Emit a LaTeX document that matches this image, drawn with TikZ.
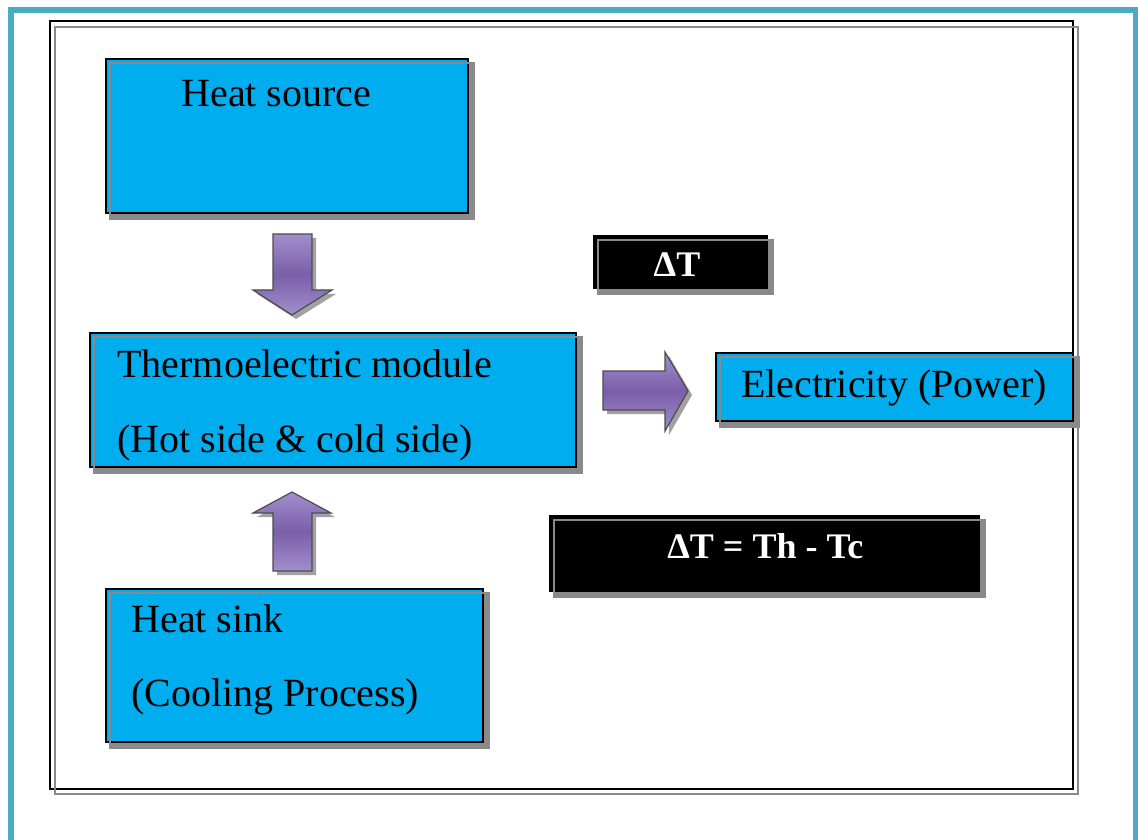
\documentclass[tikz,border=0pt]{standalone}
\usepackage{fontspec}
\setmainfont{Liberation Serif}
\usetikzlibrary{fit,shadows}

\definecolor{framecyan}{HTML}{4BAAC6}
\definecolor{boxcyan}{HTML}{00AEEF}
\definecolor{arrowlight}{HTML}{A28FCB}
\definecolor{arrowdark}{HTML}{7A5EA9}
\definecolor{shadowgray}{HTML}{8A8A8A}

\tikzset{
    panel/.style={draw=black, line width=1pt, fill=boxcyan, inner sep=0pt,
        drop shadow={shadow xshift=2.5pt, shadow yshift=-2.5pt, fill=shadowgray, opacity=1}},
    darkpanel/.style={panel, fill=black},
    panelline/.style={draw=shadowgray, line width=0.8pt},
    txt/.style={inner sep=0pt, font=\fontsize{20}{24}\selectfont},
    whitetxt/.style={txt, text=white, font=\fontsize{18}{22}\selectfont\bfseries},
    blockarrow/.style={draw=black!70, line width=0.6pt, top color=arrowlight,
        bottom color=arrowlight, middle color=arrowdark},
    arrowshadow/.style={fill=shadowgray, opacity=0.8}
}

\begin{document}
\begin{tikzpicture}[x=0.5pt, y=-0.5pt]
    \useasboundingbox (0,0) rectangle (1138,839);
    \fill[white] (0,0) rectangle (1138,839);

    % outer frame
    \draw[framecyan, line width=3pt] (11,10.5) rectangle (1135.5,900);
    \draw[black, line width=1pt] (50,21) rectangle (1073,789);
    \draw[shadowgray, line width=1pt] (55,27) rectangle (1078,794);

    % boxes
    \node[panel, fit={(106,59)(468,213)}] (source) {};
    \node[panel, fit={(90,333)(576,467)}] (module) {};
    \node[panel, fit={(106,589)(483,742)}] (sink) {};
    \node[panel, fit={(716,353)(1073,421)}] (power) {};
    \node[darkpanel, fit={(594,236)(767,288)}] (dt) {};
    \node[darkpanel, fit={(550,516)(979,591)}] (dteq) {};

    \foreach \n in {source,module,sink,power,dt,dteq} {
        \draw[panelline] ([shift={(2.5pt,-2.5pt)}]\n.north west) rectangle ([shift={(2.5pt,-2.5pt)}]\n.south east);
    }

    % texts
    \node[txt, anchor=base west] (sourcetext) at (181,107) {Heat source};
    \node[txt, anchor=base west] (moduletext) at (117,377) {Thermoelectric module};
    \node[txt, anchor=base west] (sidetext) at (117,452) {(Hot side \& cold side)};
    \node[txt, anchor=base west] (sinktext) at (131,632) {Heat sink};
    \node[txt, anchor=base west] (coolingtext) at (131,706) {(Cooling Process)};
    \node[txt, anchor=base west] (powertext) at (741,397) {Electricity (Power)};
    \node[whitetxt, anchor=base] (dttext) at (677,277) {ΔT};
    \node[whitetxt, anchor=base west] (dteqtext) at (667,558) {ΔT = Th - Tc};

    % block arrows
    \fill[arrowshadow] (277,238) -- (316,238) -- (316,294) -- (336,294) -- (296,319) -- (257,294) -- (277,294) -- cycle;
    \path[blockarrow] (273,234) -- (312,234) -- (312,290) -- (332,290) -- (292,315) -- (253,290) -- (273,290) -- cycle;

    \fill[arrowshadow] (296,496) -- (335,517) -- (316,517) -- (316,575) -- (277,575) -- (277,517) -- (257,517) -- cycle;
    \path[blockarrow] (292,492) -- (331,513) -- (312,513) -- (312,571) -- (273,571) -- (273,513) -- (253,513) -- cycle;

    \fill[arrowshadow] (607,375) -- (669,375) -- (669,356) -- (692,395) -- (669,435) -- (669,414) -- (607,414) -- cycle;
    \path[blockarrow] (603,371) -- (665,371) -- (665,352) -- (688,391) -- (665,431) -- (665,410) -- (603,410) -- cycle;
\end{tikzpicture}
\end{document}
